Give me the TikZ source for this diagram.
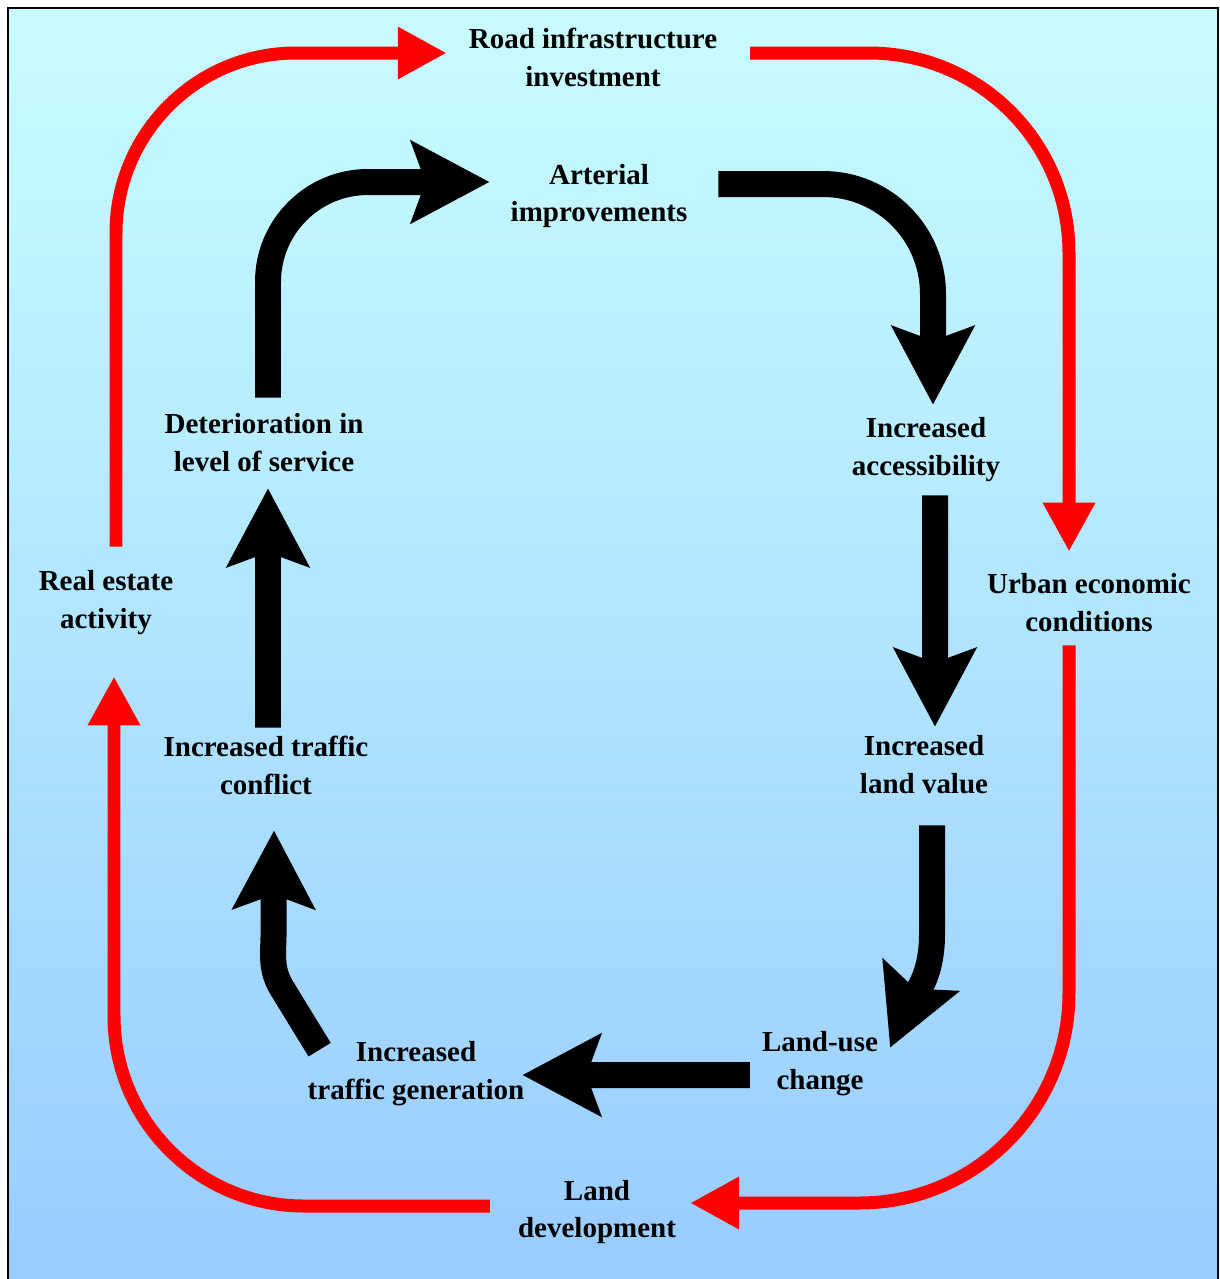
\documentclass[tikz,border=0pt]{standalone}
\usepackage{fontspec}
\setmainfont{Liberation Serif}
\usetikzlibrary{arrows.meta}
\definecolor{bgtop}{RGB}{200,252,255}
\definecolor{bgbot}{RGB}{153,204,255}
\definecolor{loopred}{RGB}{255,0,0}

\begin{document}
\begin{tikzpicture}[x=0.02cm,y=-0.02cm]
	\tikzset{lbl/.style={align=center,inner sep=1pt,font=\fontsize{16.5}{21.6}\selectfont\bfseries}}
	\tikzset{redloop/.style={draw=loopred,line width=0.26cm,rounded corners=3.8cm,-{Triangle[length=0.98cm,width=0.98cm]}}}
	\tikzset{blackloop/.style={draw=black,line width=0.52cm,rounded corners=2.1cm,-{Stealth[length=1.56cm,width=1.62cm,inset=0.28cm]}}}

	\useasboundingbox (0,0) rectangle (1220,1279);
	\shade[top color=bgtop,bottom color=bgbot] (8,8) rectangle (1218,1279);
	\draw[line width=0.05cm] (8,1279) |- (1218,8) -- (1218,1279);

	    \node[lbl] (road) at (593,57) {Road infrastructure\\investment};
	    \node[lbl] (art) at (599,196) {Arterial\\improvements};
	    \node[lbl] (acc) at (926,450) {Increased\\accessibility};
	    \node[lbl] (urb) at (1089,603) {Urban economic\\conditions};
	    \node[lbl] (lval) at (924,765) {Increased\\land value};
	    \node[lbl] (luse) at (820,1064) {Land-use\\change};
	    \node[lbl] (tgen) at (416,1074) {Increased\\traffic generation};
	    \node[lbl] (ldev) at (597,1212) {Land\\development};
	    \node[lbl] (real) at (106,603) {Real estate\\activity};
	    \node[lbl] (conf) at (266,765) {Increased traffic\\conflict};
	    \node[lbl] (det) at (264,443) {Deterioration in\\level of service};

	    % outer loop
	    \draw[redloop,rounded corners=3.6cm] ([xshift=0.2cm,yshift=0.44cm]real.north) |- ([xshift=-0.4cm,yshift=0.08cm]road.west);
	    \draw[redloop,rounded corners=4cm] ([xshift=0.62cm,yshift=0.08cm]road.east) -| ([xshift=-0.4cm,yshift=0.4cm]urb.north);
	    \draw[redloop,rounded corners=4.2cm] ([xshift=-0.4cm,yshift=-0.22cm]urb.south) |- ([xshift=0.24cm,yshift=0.18cm]ldev.east);
	    \draw[redloop] ([xshift=-0.52cm,yshift=0.12cm]ldev.west) -| ([xshift=0.16cm,yshift=-0.78cm]real.south);

	    % inner loop
	    \draw[blackloop,rounded corners=2cm] ([xshift=0.08cm,yshift=0.28cm]det.north) |- ([xshift=-0.38cm,yshift=0.28cm]art.west);
	    \draw[blackloop,rounded corners=2.2cm] ([xshift=0.58cm,yshift=0.24cm]art.east) -| ([xshift=0.14cm,yshift=0.22cm]acc.north);
	    \draw[blackloop] ([xshift=0.18cm,yshift=-0.22cm]acc.south) -- ([xshift=0.22cm,yshift=0.14cm]lval.north);
	    \draw[blackloop,sharp corners] ([xshift=0.16cm,yshift=-0.58cm]lval.south) -- ++(0,110)
	    	to[out=-90,in=67] ([xshift=0.2cm,yshift=-0.36cm]luse.north east);
	    \draw[blackloop] ([xshift=-0.2cm,yshift=-0.22cm]luse.west) -- ([xshift=-0.08cm,yshift=-0.02cm]tgen.east);
	    \draw[blackloop,sharp corners] ([xshift=0.28cm,yshift=-0.2cm]tgen.north west) -- ++(-38,-62)
	    	to[out=121,in=-90] ++(-8,-58) -- ([xshift=0.16cm,yshift=-0.68cm]conf.south);
	    \draw[blackloop] ([xshift=0.04cm,yshift=0.12cm]conf.north) -- ([xshift=0.08cm,yshift=-0.28cm]det.south);

\end{tikzpicture}
\end{document}
